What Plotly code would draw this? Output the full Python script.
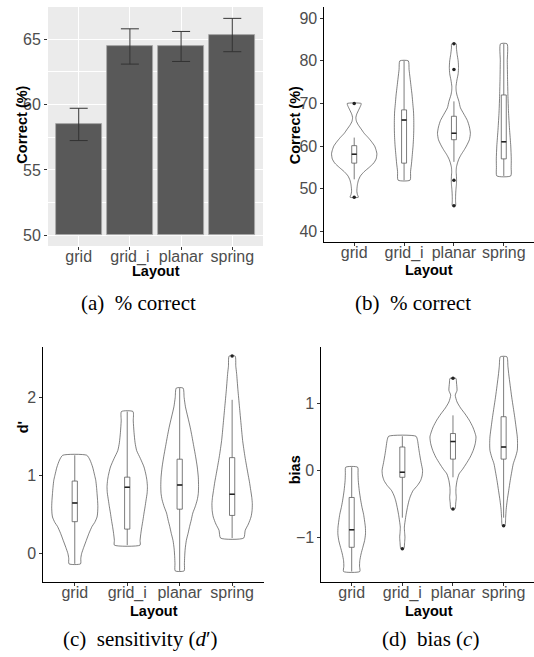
import plotly.graph_objects as go

W, H = 534, 657

categories = ["grid", "grid_i", "planar", "spring"]

# ---- (a) bar chart: mean % correct with error bars ----
bar_mean = [58.5, 64.45, 64.45, 65.35]
bar_low = [57.25, 63.1, 63.3, 64.05]
bar_high = [59.72, 65.8, 65.6, 66.6]
bar_base = 50

# ---- violin outlines: value levels and half-widths (category units) ----
# (b) % correct
b_grid_y = [70, 69.5, 68.5, 67.5, 66.7, 65.8, 65, 64, 63, 62, 61, 60, 59, 58.2, 57, 56, 55, 54, 53, 52, 51, 50, 49.3, 48.6, 48]
b_grid_w = [0.14, 0.13, 0.09, 0.05, 0.033, 0.045, 0.08, 0.14, 0.2, 0.28, 0.35, 0.41, 0.44, 0.455, 0.44, 0.39, 0.3, 0.2, 0.125, 0.085, 0.065, 0.055, 0.053, 0.065, 0.083]
b_gridi_y = [80, 78, 76, 74, 72, 70, 68, 66, 64, 62, 60, 58, 56, 54, 52]
b_gridi_w = [0.085, 0.1, 0.12, 0.14, 0.16, 0.175, 0.19, 0.195, 0.195, 0.19, 0.18, 0.165, 0.15, 0.13, 0.12]
b_planar_y = [84, 83, 81.5, 80, 78.5, 77, 75.5, 74, 73, 72, 70.5, 69, 67.5, 66, 64.5, 63, 61.5, 60, 59, 58, 57, 56, 55, 54, 53, 52, 51, 50, 49, 48, 47, 46]
b_planar_w = [0.046, 0.05, 0.065, 0.085, 0.092, 0.085, 0.06, 0.042, 0.045, 0.06, 0.1, 0.13, 0.2, 0.27, 0.31, 0.33, 0.31, 0.25, 0.2, 0.145, 0.1, 0.07, 0.05, 0.045, 0.05, 0.053, 0.05, 0.042, 0.036, 0.033, 0.033, 0.033]
b_spring_y = [84, 80, 76, 72, 68, 64, 60, 57, 55, 53]
b_spring_w = [0.066, 0.07, 0.075, 0.083, 0.095, 0.115, 0.14, 0.15, 0.148, 0.14]

# (c) sensitivity d'
c_grid_y = [1.26, 1.2, 1.11, 1.0, 0.94, 0.85, 0.77, 0.68, 0.6, 0.52, 0.47, 0.4, 0.35, 0.26, 0.17, 0.08, 0.0, -0.06, -0.13]
c_grid_w = [0.23, 0.29, 0.34, 0.38, 0.40, 0.415, 0.425, 0.435, 0.44, 0.435, 0.425, 0.38, 0.33, 0.27, 0.22, 0.17, 0.13, 0.115, 0.11]
c_gridi_y = [1.82, 1.7, 1.55, 1.42, 1.32, 1.22, 1.11, 1.0, 0.94, 0.86, 0.78, 0.69, 0.6, 0.52, 0.43, 0.35, 0.26, 0.17, 0.11]
c_gridi_w = [0.11, 0.115, 0.13, 0.15, 0.18, 0.25, 0.32, 0.36, 0.375, 0.385, 0.38, 0.36, 0.34, 0.32, 0.3, 0.28, 0.26, 0.245, 0.245]
c_planar_y = [2.12, 2.0, 1.88, 1.75, 1.62, 1.5, 1.37, 1.24, 1.11, 0.98, 0.86, 0.77, 0.69, 0.6, 0.52, 0.43, 0.35, 0.26, 0.17, 0.06, -0.04, -0.13, -0.22]
c_planar_w = [0.065, 0.085, 0.11, 0.155, 0.2, 0.235, 0.27, 0.305, 0.335, 0.355, 0.36, 0.355, 0.335, 0.295, 0.25, 0.22, 0.19, 0.16, 0.127, 0.105, 0.095, 0.09, 0.085]
c_spring_y = [2.53, 2.4, 2.31, 2.1, 1.88, 1.66, 1.45, 1.24, 1.03, 0.92, 0.81, 0.72, 0.64, 0.55, 0.47, 0.38, 0.3, 0.2]
c_spring_w = [0.057, 0.07, 0.085, 0.11, 0.14, 0.17, 0.2, 0.245, 0.3, 0.33, 0.355, 0.375, 0.385, 0.38, 0.36, 0.31, 0.25, 0.22]

# (d) bias c
d_grid_y = [0.05, -0.05, -0.15, -0.3, -0.45, -0.55, -0.65, -0.75, -0.84, -0.94, -1.04, -1.14, -1.24, -1.34, -1.42, -1.5]
d_grid_w = [0.117, 0.125, 0.13, 0.15, 0.18, 0.205, 0.235, 0.255, 0.27, 0.273, 0.255, 0.22, 0.185, 0.16, 0.155, 0.16]
d_gridi_y = [0.51, 0.45, 0.35, 0.25, 0.12, 0.0, -0.08, -0.15, -0.22, -0.3, -0.38, -0.45, -0.55, -0.65, -0.75, -0.84, -0.92, -0.99, -1.07, -1.16]
d_gridi_w = [0.27, 0.3, 0.32, 0.34, 0.37, 0.4, 0.39, 0.36, 0.3, 0.21, 0.16, 0.13, 0.1, 0.075, 0.055, 0.04, 0.045, 0.052, 0.045, 0.03]
d_planar_y = [1.37, 1.3, 1.19, 1.12, 1.02, 0.93, 0.84, 0.75, 0.65, 0.57, 0.5, 0.4, 0.3, 0.2, 0.1, 0.02, -0.05, -0.15, -0.25, -0.33, -0.4, -0.48, -0.57]
d_planar_w = [0.058, 0.07, 0.08, 0.045, 0.08, 0.15, 0.24, 0.32, 0.39, 0.43, 0.455, 0.44, 0.4, 0.34, 0.26, 0.19, 0.12, 0.08, 0.06, 0.058, 0.065, 0.055, 0.04]
d_spring_y = [1.69, 1.55, 1.44, 1.26, 1.09, 0.94, 0.79, 0.65, 0.5, 0.4, 0.3, 0.2, 0.1, -0.02, -0.15, -0.3, -0.45, -0.58, -0.7, -0.82]
d_spring_w = [0.065, 0.085, 0.1, 0.13, 0.16, 0.19, 0.22, 0.245, 0.27, 0.275, 0.27, 0.235, 0.19, 0.16, 0.13, 0.1, 0.07, 0.05, 0.04, 0.026]

# ---- box statistics ----
b_q1 = [56.0, 56.0, 61.5, 57.0]
b_med = [58.1, 66.1, 63.0, 61.0]
b_q3 = [60.1, 68.5, 67.0, 72.0]
b_lo = [52.2, 52.0, 56.3, 53.0]
b_hi = [62.0, 80.0, 70.5, 84.0]
b_out_cat = [0, 0, 2, 2, 2, 2]
b_out_val = [70, 48, 84, 78, 52, 46]

c_q1 = [0.41, 0.315, 0.57, 0.49]
c_med = [0.65, 0.85, 0.88, 0.76]
c_q3 = [0.93, 0.98, 1.21, 1.23]
c_lo = [-0.13, 0.11, -0.22, 0.2]
c_hi = [1.26, 1.82, 2.12, 1.97]
c_out_cat = [3]
c_out_val = [2.53]

d_q1 = [-1.14, -0.10, 0.17, 0.17]
d_med = [-0.88, -0.025, 0.43, 0.35]
d_q3 = [-0.40, 0.35, 0.55, 0.80]
d_lo = [-1.5, -0.7, -0.1, -0.7]
d_hi = [0.05, 0.51, 0.82, 1.69]
d_out_cat = [1, 2, 2, 3]
d_out_val = [-1.16, 1.37, -0.57, -0.82]

# ---- layout geometry (pixels) ----
panels = {
    "a": dict(x0=48, x1=263, y0=7, y1=246, yr=[49.18, 67.47], yt=[50, 55, 60, 65]),
    "b": dict(x0=324.3, x1=533.7, y0=7, y1=241.7, yr=[37.56, 92.65], yt=[40, 50, 60, 70, 80, 90]),
    "c": dict(x0=43.3, x1=263.6, y0=346.7, y1=582.3, yr=[-0.366, 2.65], yt=[0, 1, 2]),
    "d": dict(x0=321.3, x1=534, y0=346.7, y1=582.3, yr=[-1.66, 1.84], yt=[-1, 0, 1]),
}
axis_ids = {"a": ("x", "y"), "b": ("x2", "y2"), "c": ("x3", "y3"), "d": ("x4", "y4")}

TICKFONT = dict(family="Liberation Sans, Arial, sans-serif", size=16, color="#4D4D4D")
TITLEFONT = dict(family="Liberation Sans, Arial, sans-serif", size=14.5, color="black")
CAPFONT = dict(family="Liberation Serif, Times New Roman, serif", size=21, color="black")
BOX_W = 0.1

fig = go.Figure()

# (a) bars
fig.add_trace(go.Bar(
    x=list(range(4)), y=[m - bar_base for m in bar_mean], base=bar_base, width=0.9,
    marker=dict(color="#595959", line=dict(color="#a8a8a8", width=0.8)),
    error_y=dict(type="data", symmetric=False,
                 array=[h - m for h, m in zip(bar_high, bar_mean)],
                 arrayminus=[m - l for m, l in zip(bar_mean, bar_low)],
                 color="#333333", thickness=1, width=9),
    xaxis="x", yaxis="y", showlegend=False, hoverinfo="skip"))


def add_violins(profiles, xa, ya):
    for i, (vy, vw) in enumerate(profiles):
        xs = [i - w for w in vw] + [i + w for w in reversed(vw)] + [i - vw[0]]
        ys = list(vy) + list(reversed(vy)) + [vy[0]]
        fig.add_trace(go.Scatter(x=xs, y=ys, mode="lines",
                                 line=dict(color="#4a4a4a", width=0.7, shape="spline", smoothing=0.6),
                                 xaxis=xa, yaxis=ya, showlegend=False, hoverinfo="skip"))


def add_boxes(q1, med, q3, lo, hi, out_c, out_v, xa, ya):
    fig.add_trace(go.Box(x=list(range(4)), q1=q1, median=med, q3=q3, lowerfence=lo, upperfence=hi,
                         width=BOX_W, whiskerwidth=0, boxpoints=False, fillcolor="white",
                         line=dict(color="#5a5a5a", width=0.8),
                         xaxis=xa, yaxis=ya, showlegend=False, hoverinfo="skip"))
    # emphasised median (ggplot fatten)
    mx, my = [], []
    for i, m in enumerate(med):
        mx += [i - BOX_W / 2, i + BOX_W / 2, None]
        my += [m, m, None]
    fig.add_trace(go.Scatter(x=mx, y=my, mode="lines", line=dict(color="#222222", width=1.5),
                             xaxis=xa, yaxis=ya, showlegend=False, hoverinfo="skip"))
    fig.add_trace(go.Scatter(x=out_c, y=out_v, mode="markers",
                             marker=dict(color="#222222", size=3.5),
                             xaxis=xa, yaxis=ya, showlegend=False, hoverinfo="skip"))


add_violins([(b_grid_y, b_grid_w), (b_gridi_y, b_gridi_w), (b_planar_y, b_planar_w), (b_spring_y, b_spring_w)], "x2", "y2")
add_boxes(b_q1, b_med, b_q3, b_lo, b_hi, b_out_cat, b_out_val, "x2", "y2")
add_violins([(c_grid_y, c_grid_w), (c_gridi_y, c_gridi_w), (c_planar_y, c_planar_w), (c_spring_y, c_spring_w)], "x3", "y3")
add_boxes(c_q1, c_med, c_q3, c_lo, c_hi, c_out_cat, c_out_val, "x3", "y3")
add_violins([(d_grid_y, d_grid_w), (d_gridi_y, d_gridi_w), (d_planar_y, d_planar_w), (d_spring_y, d_spring_w)], "x4", "y4")
add_boxes(d_q1, d_med, d_q3, d_lo, d_hi, d_out_cat, d_out_val, "x4", "y4")

layout = dict(width=W, height=H, margin=dict(l=0, r=0, t=0, b=0),
              paper_bgcolor="white", plot_bgcolor="rgba(0,0,0,0)",
              showlegend=False, bargap=0, boxmode="overlay")

for key, p in panels.items():
    xa, ya = axis_ids[key]
    xname = "xaxis" + xa[1:]
    yname = "yaxis" + ya[1:]
    is_a = key == "a"
    layout[xname] = dict(
        domain=[p["x0"] / W, p["x1"] / W], range=[-0.6, 3.6], anchor=ya,
        tickvals=list(range(4)), ticktext=categories, tickfont=TICKFONT,
        ticks="outside", ticklen=3, tickwidth=0.8, tickcolor="#333333",
        ticklabelstandoff=-7,
        showgrid=is_a, gridcolor="white", gridwidth=1.1, zeroline=False,
        showline=not is_a, linecolor="black", linewidth=0.8, fixedrange=True)
    yd = dict(
        domain=[1 - p["y1"] / H, 1 - p["y0"] / H], range=p["yr"], anchor=xa,
        tickvals=p["yt"], tickfont=TICKFONT,
        ticks="outside", ticklen=3, tickwidth=0.8, tickcolor="#333333",
        showgrid=is_a, gridcolor="white", gridwidth=1.1, zeroline=False,
        showline=not is_a, linecolor="black", linewidth=0.8, fixedrange=True)
    if is_a:
        yd["minor"] = dict(tickvals=[52.5, 57.5, 62.5, 67.5], showgrid=True,
                           gridcolor="white", gridwidth=0.5, ticks="")
    layout[yname] = yd

layout["shapes"] = [dict(type="rect", xref="x domain", yref="y domain", x0=0, x1=1, y0=0, y1=1,
                         fillcolor="#EBEBEB", line=dict(width=0), layer="below")]


def ann(text, xpx, ypx, font, angle=0):
    return dict(text=text, x=xpx / W, y=1 - ypx / H, xref="paper", yref="paper",
                showarrow=False, font=font, textangle=angle, xanchor="center", yanchor="middle")


layout["annotations"] = [
    ann("<b>Correct (%)</b>", 21.7, 125, TITLEFONT, -90),
    ann("<b>Layout</b>", 155.5, 271.5, TITLEFONT),
    ann("<b>Correct (%)</b>", 295.3, 125, TITLEFONT, -90),
    ann("<b>Layout</b>", 429, 270, TITLEFONT),
    ann("<b>d'</b>", 23.3, 427, TITLEFONT, -90),
    ann("<b>Layout</b>", 153.5, 611, TITLEFONT),
    ann("<b>bias</b>", 295.3, 470, TITLEFONT, -90),
    ann("<b>Layout</b>", 428.7, 611, TITLEFONT),
    ann("(a)\u00a0\u00a0% correct", 138.7, 303, CAPFONT),
    ann("(b)\u00a0\u00a0% correct", 413, 303, CAPFONT),
    ann("(c)\u00a0\u00a0sensitivity (<i>d</i>\u2032)", 139.5, 639, CAPFONT),
    ann("(d)\u00a0\u00a0bias (<i>c</i>)", 430, 639, CAPFONT),
]

fig.update_layout(**layout)
fig.write_html("out.html", config={"displayModeBar": False},
               post_script="document.body.style.margin='0px';document.body.style.overflow='hidden';")
